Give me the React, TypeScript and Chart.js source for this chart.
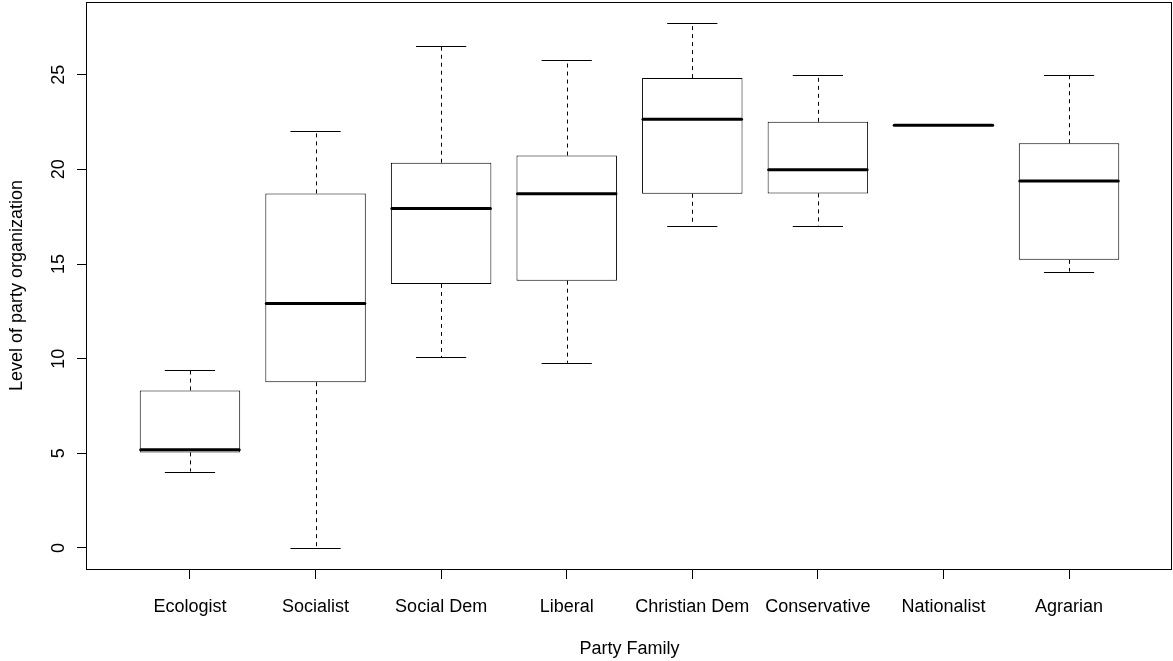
import React, { useEffect, useRef } from 'react';
import { Chart, registerables } from 'chart.js';

Chart.register(...registerables);

const categories = ['Ecologist', 'Socialist', 'Social Dem', 'Liberal', 'Christian Dem', 'Conservative', 'Nationalist', 'Agrarian'];
const whiskerLow = [4.04, 0, 10.08, 9.78, 17.02, 17.02, 22.33, 14.6];
const q1 = [5.05, 8.76, 13.95, 14.12, 18.71, 18.73, 22.33, 15.22];
const median = [5.19, 12.92, 17.93, 18.71, 22.65, 19.98, 22.33, 19.39];
const q3 = [8.32, 18.73, 20.35, 20.73, 24.82, 22.51, 22.33, 21.38];
const whiskerHigh = [9.41, 22.0, 26.51, 25.77, 27.73, 25.0, 22.33, 25.0];
const yTicks = [0, 5, 10, 15, 20, 25];
const xTitle = 'Party Family';
const yTitle = 'Level of party organization';

const FONT = '"Liberation Sans", Arial, Helvetica, sans-serif';

export default function App() {
  const ref = useRef<HTMLCanvasElement>(null);

  useEffect(() => {
    document.body.style.margin = '0';
    const canvas = ref.current;
    if (!canvas) return;

    const boxPlugin = {
      id: 'boxExtras',
      afterDatasetsDraw(chart: any) {
        const ctx = chart.ctx as CanvasRenderingContext2D;
        const ys = chart.scales.y;
        const meta = chart.getDatasetMeta(0);
        ctx.save();
        ctx.strokeStyle = '#000';
        meta.data.forEach((el: any, i: number) => {
          const cx = el.x;
          const w = el.width;
          const xs = Math.round(cx) + 0.5;
          // whiskers
          ctx.lineWidth = 1;
          ctx.lineCap = 'butt';
          ctx.setLineDash([4, 4]);
          ctx.beginPath();
          if (whiskerHigh[i] > q3[i]) {
            ctx.moveTo(xs, ys.getPixelForValue(q3[i]));
            ctx.lineTo(xs, ys.getPixelForValue(whiskerHigh[i]));
          }
          if (whiskerLow[i] < q1[i]) {
            ctx.moveTo(xs, ys.getPixelForValue(q1[i]));
            ctx.lineTo(xs, ys.getPixelForValue(whiskerLow[i]));
          }
          ctx.stroke();
          ctx.setLineDash([]);
          // caps
          ctx.beginPath();
          const yh = Math.round(ys.getPixelForValue(whiskerHigh[i])) + 0.5;
          const yl = Math.round(ys.getPixelForValue(whiskerLow[i])) + 0.5;
          ctx.moveTo(cx - w / 4, yh);
          ctx.lineTo(cx + w / 4, yh);
          ctx.moveTo(cx - w / 4, yl);
          ctx.lineTo(cx + w / 4, yl);
          ctx.stroke();
          // median
          ctx.lineWidth = 3;
          ctx.lineCap = 'round';
          ctx.beginPath();
          const ym = ys.getPixelForValue(median[i]);
          ctx.moveTo(cx - w / 2 + 1, ym);
          ctx.lineTo(cx + w / 2 - 1, ym);
          ctx.stroke();
        });
        // y tick labels (rotated, as in R)
        ctx.fillStyle = '#000';
        ctx.font = `18px ${FONT}`;
        yTicks.forEach((v) => {
          const py = ys.getPixelForValue(v);
          ctx.save();
          ctx.translate(ys.right - 23, py);
          ctx.rotate(-Math.PI / 2);
          ctx.textAlign = 'center';
          ctx.textBaseline = 'alphabetic';
          ctx.fillText(String(v), 0, 0);
          ctx.restore();
        });
        // frame
        const a = chart.chartArea;
        ctx.lineWidth = 1;
        ctx.strokeStyle = '#000';
        ctx.strokeRect(a.left - 0.5, a.top + 0.5, a.right - a.left, a.bottom - a.top);
        ctx.restore();
      },
    };

    const chart = new Chart(canvas, {
      type: 'bar',
      data: {
        datasets: [
          {
            data: categories.map((_, i) => ({ x: i + 1, y: [q1[i], q3[i]] })) as any,
            backgroundColor: '#ffffff',
            borderColor: '#000000',
            borderWidth: 1,
            borderSkipped: false,
            categoryPercentage: 0.8,
            barPercentage: 1,
          },
        ],
      },
      options: {
        responsive: false,
        animation: false,
        events: [],
        layout: { padding: { top: 2, right: 1, left: 0, bottom: 0 } },
        plugins: {
          legend: { display: false },
          tooltip: { enabled: false },
        },
        scales: {
          x: {
            type: 'linear',
            min: 0.18,
            max: 8.82,
            offset: false,
            afterBuildTicks: (s: any) => {
              s.ticks = categories.map((_, i) => ({ value: i + 1 }));
            },
            afterFit: (s: any) => {
              s.height = 92;
            },
            ticks: {
              autoSkip: false,
              maxRotation: 0,
              minRotation: 0,
              padding: 17,
              color: '#000',
              font: { family: FONT, size: 18 },
              callback: (v: any) => categories[Number(v) - 1] ?? '',
            },
            grid: {
              display: true,
              offset: false,
              drawOnChartArea: false,
              drawTicks: true,
              tickLength: 10,
              tickColor: '#000',
              tickWidth: 1,
            },
            border: { display: false },
            title: {
              display: true,
              text: xTitle,
              color: '#000',
              font: { family: FONT, size: 18 },
              padding: { top: 0, bottom: 1 },
            },
          },
          y: {
            type: 'linear',
            position: 'left',
            min: -1.11,
            max: 28.84,
            afterBuildTicks: (s: any) => {
              s.ticks = yTicks.map((v) => ({ value: v }));
            },
            afterFit: (s: any) => {
              s.width = 87;
            },
            ticks: { display: false },
            grid: {
              display: true,
              drawOnChartArea: false,
              drawTicks: true,
              tickLength: 10,
              tickColor: '#000',
              tickWidth: 1,
            },
            border: { display: false },
            title: {
              display: true,
              text: yTitle,
              color: '#000',
              font: { family: FONT, size: 18 },
              padding: { top: 6, bottom: 0 },
            },
          },
        },
      },
      plugins: [boxPlugin],
    });

    return () => {
      chart.destroy();
    };
  }, []);

  return (
    <div style={{ position: 'absolute', left: 0, top: 0, width: 1173, height: 661, background: '#fff' }}>
      <canvas ref={ref} width={1173} height={661} style={{ display: 'block' }} />
    </div>
  );
}
